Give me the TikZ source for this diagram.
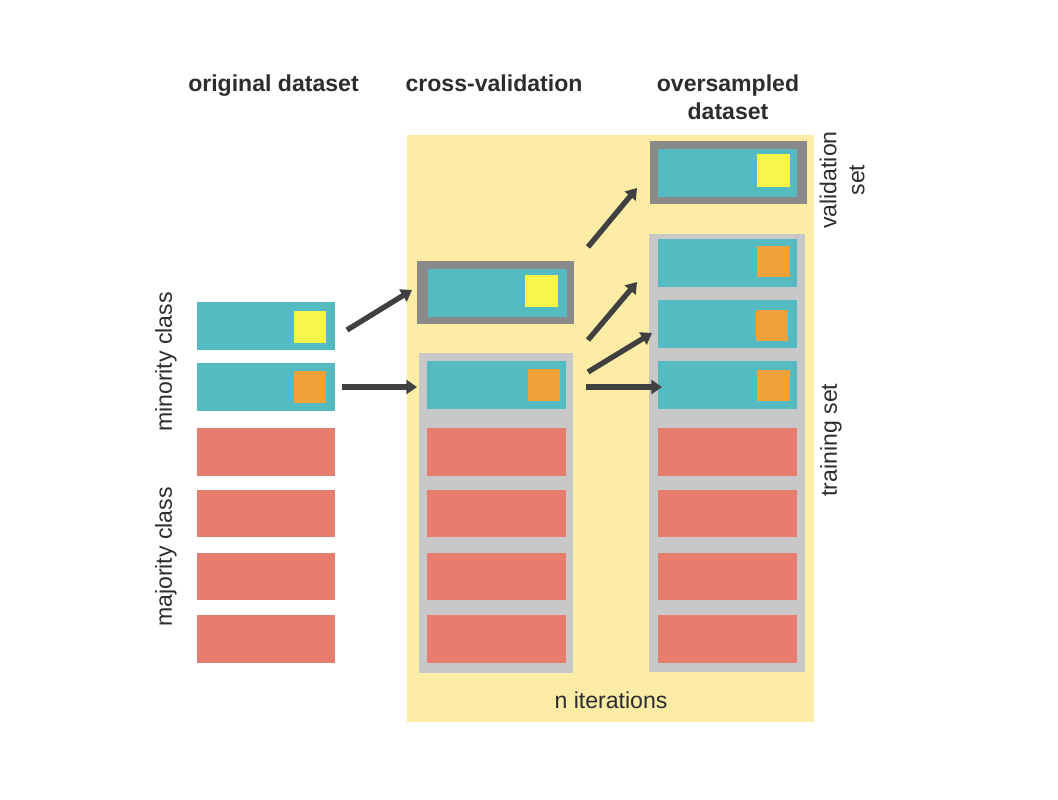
\documentclass[tikz,border=0pt]{standalone}
\usepackage{fontspec}
\setmainfont{Liberation Sans}
\usetikzlibrary{fit,arrows.meta}

\definecolor{panelyellow}{RGB}{252,236,166}
\definecolor{barteal}{RGB}{83,187,193}
\definecolor{barsalmon}{RGB}{231,125,111}
\definecolor{markyellow}{RGB}{246,246,76}
\definecolor{markorange}{RGB}{240,162,58}
\definecolor{framedark}{RGB}{138,138,138}
\definecolor{framelight}{RGB}{200,200,200}
\definecolor{arrowgray}{RGB}{64,64,64}
\definecolor{labelgray}{RGB}{45,45,45}

\begin{document}
\begin{tikzpicture}[x=0.75pt,y=-0.75pt,
  area/.style={inner sep=0pt, outer sep=0pt, draw=none, fill=#1},
  minority/.style={area=barteal},
  majority/.style={area=barsalmon},
  valframe/.style={area=framedark},
  trainframe/.style={area=framelight},
  synthetic/.style={area=markorange},
  original/.style={area=markyellow},
  heading/.style={text=labelgray, font=\bfseries\fontsize{17.3}{21}\selectfont, align=center, inner sep=0pt},
  sidelabel/.style={text=labelgray, font=\fontsize{17.3}{21}\selectfont, align=center, inner sep=0pt, rotate=90},
  flow/.style={draw=arrowgray, line width=4pt, -{Triangle[length=8pt,width=10.5pt]}}]

\useasboundingbox (0,0) rectangle (1058,800);

% background of the cross-validation loop
\node[area=panelyellow, fit={(407,135)(814,722)}] (panel) {};

% column headings
\node[heading, anchor=base] (h-orig) at (273.5,91) {original dataset};
\node[heading, anchor=base] (h-cv) at (494,91) {cross-validation};
\node[heading] (h-over) at (728,97) {oversampled\\dataset};

% ---- original dataset ----
\node[minority, fit={(197,302)(335,350)}] (orig-min-1) {};
\node[original, fit={(294,311)(326,343)}] (orig-mark-1) {};
\node[minority, fit={(197,363)(335,411)}] (orig-min-2) {};
\node[synthetic, fit={(294,371)(326,403)}] (orig-mark-2) {};
\foreach \t/\b [count=\i] in {428/476,490/537,553/600,615/663}
  \node[majority, fit={(197,\t)(335,\b)}] (orig-maj-\i) {};

\node[sidelabel] (lbl-min) at (166,362) {minority class};
\node[sidelabel] (lbl-maj) at (166,557) {majority class};

% ---- cross-validation split ----
\node[valframe, fit={(417,261)(574,324)}] (cv-valframe) {};
\node[minority, fit={(428,269)(567,317)}] (cv-val) {};
\node[original, fit={(525,275)(558,307)}] (cv-val-mark) {};

\node[trainframe, fit={(419,353)(573,673)}] (cv-trainframe) {};
\node[minority, fit={(427,361)(566,409)}] (cv-min) {};
\node[synthetic, fit={(528,369)(560,401)}] (cv-min-mark) {};
\foreach \t/\b [count=\i] in {428/476,490/537,553/600,615/663}
  \node[majority, fit={(427,\t)(566,\b)}] (cv-maj-\i) {};

% ---- oversampled dataset ----
\node[valframe, fit={(650,141)(807,204)}] (os-valframe) {};
\node[minority, fit={(658,149)(797,197)}] (os-val) {};
\node[original, fit={(757,154)(790,187)}] (os-val-mark) {};

\node[trainframe, fit={(649,234)(805,672)}] (os-trainframe) {};
\node[minority, fit={(658,239)(797,287)}] (os-min-1) {};
\node[synthetic, fit={(757,246)(790,277)}] (os-mark-1) {};
\node[minority, fit={(658,300)(797,348)}] (os-min-2) {};
\node[synthetic, fit={(756,310)(788,341)}] (os-mark-2) {};
\node[minority, fit={(658,361)(797,409)}] (os-min-3) {};
\node[synthetic, fit={(757,370)(790,401)}] (os-mark-3) {};
\foreach \t/\b [count=\i] in {428/476,490/537,553/600,615/663}
  \node[majority, fit={(658,\t)(797,\b)}] (os-maj-\i) {};

\node[sidelabel] (lbl-val) at (842,180) {validation\\set};
\node[sidelabel] (lbl-train) at (831,440) {training set};
\node[text=labelgray, font=\fontsize{17.3}{21}\selectfont, inner sep=0pt] (lbl-iter) at (611,700) {n iterations};

% arrow end points
\coordinate (a1s) at (347,330); \coordinate (a1e) at (412,290);
\coordinate (a2s) at (342,387); \coordinate (a2e) at (417,387);
\coordinate (a3s) at (588,247); \coordinate (a3e) at (637,188);
\coordinate (a4s) at (588,340); \coordinate (a4e) at (637,282);
\coordinate (a5s) at (588,372); \coordinate (a5e) at (652,333);
\coordinate (a6s) at (586,387); \coordinate (a6e) at (662,387);

\draw[flow] (a1s) -- (a1e);
\draw[flow] (a2s) -- (a2e);
\draw[flow] (a3s) -- (a3e);
\draw[flow] (a4s) -- (a4e);
\draw[flow] (a5s) -- (a5e);
\draw[flow] (a6s) -- (a6e);

\end{tikzpicture}
\end{document}
